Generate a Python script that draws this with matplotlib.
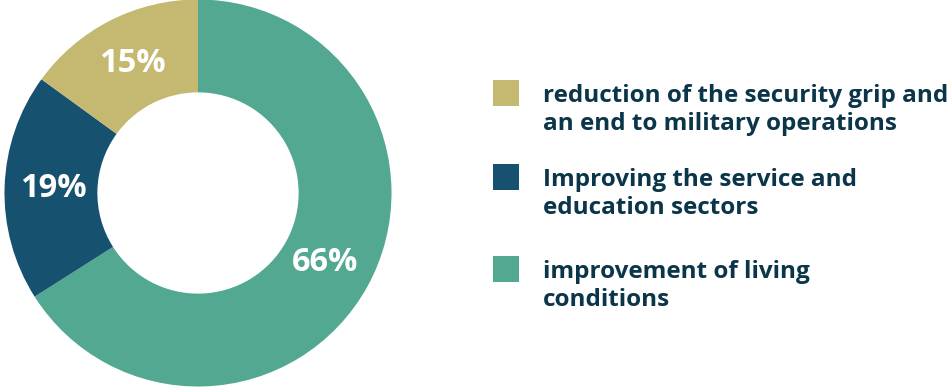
import matplotlib
matplotlib.use("Agg")
import matplotlib.pyplot as plt
from matplotlib.patches import Rectangle

# Survey shares (percent)
labels = [
    "improvement of living\nconditions",
    "Improving the service and\neducation sectors",
    "reduction of the security grip and\nan end to military operations",
]
values = [66, 19, 15]
colors = ["#52A890", "#16516F", "#C5B870"]

# legend is listed top-down in reverse slice order
legend_order = [2, 1, 0]

W, H = 952, 387
text_color = "#0B3549"
font = "Open Sans"

fig = plt.figure(figsize=(W / 100, H / 100), dpi=100)

# Donut: centre ~ (198, 193) px, outer radius ~193 px
ax = fig.add_axes([4.5 / W, 0.5 / H, 387 / W, 387 / H])
wedges, _, pcts = ax.pie(
    values,
    colors=colors,
    startangle=90,
    counterclock=False,
    radius=1.0,
    wedgeprops=dict(width=0.48, linewidth=0),
    autopct="%.0f%%",
    pctdistance=0.75,
    textprops=dict(color="white", fontsize=23.5, fontweight="bold", family=font),
)
ax.set_xlim(-1, 1)
ax.set_ylim(-1, 1)
ax.set_aspect("equal")
ax.axis("off")

# Legend drawn by hand: square + two-line label (baseline = last line)
row_tops = [80, 164, 256]
for top, i in zip(row_tops, legend_order):
    fig.patches.append(Rectangle((493 / W, 1 - (top + 26) / H), 26 / W, 26 / H,
                                 transform=fig.transFigure, color=colors[i], lw=0))
    fig.text(543 / W, 1 - (top + 50) / H, labels[i], ha="left", va="baseline",
             fontsize=17.5, fontweight="bold", family=font, color=text_color,
             linespacing=1.22)

fig.savefig("out.png", dpi=100)
